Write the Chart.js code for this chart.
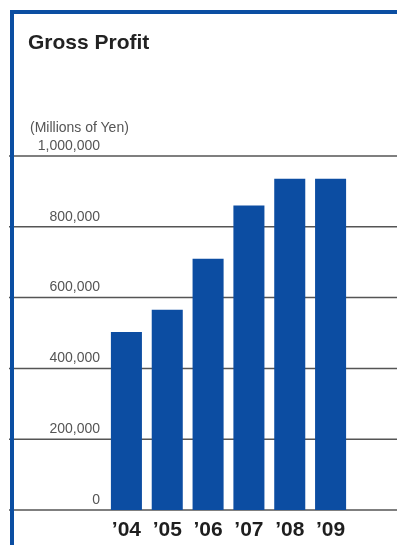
<!DOCTYPE html>
<html>
<head>
<meta charset="utf-8">
<script src="https://cdn.jsdelivr.net/npm/chart.js@4.4.0/dist/chart.umd.min.js"></script>
<style>
  html, body { margin: 0; padding: 0; background: #fff; }
  #wrap { position: relative; width: 397px; height: 545px; overflow: hidden; font-family: "Liberation Sans", Arial, sans-serif; }
  #chart { position: absolute; left: 0; top: 0; }
  .frame-top { position: absolute; left: 10px; top: 10px; width: 387px; height: 4px; background: #0b4ea2; }
  .frame-left { position: absolute; left: 10px; top: 10px; width: 4px; height: 535px; background: #0b4ea2; }
  .title { position: absolute; left: 28px; top: 31px; font-size: 21px; line-height: 21px; font-weight: bold; color: #222; }
  .unit { position: absolute; left: 30px; top: 120px; font-size: 14px; line-height: 14px; color: #555; }
</style>
</head>
<body>
<div id="wrap">
  <canvas id="chart" width="397" height="545"></canvas>
  <div class="frame-top"></div>
  <div class="frame-left"></div>
  <div class="title">Gross Profit</div>
  <div class="unit">(Millions of Yen)</div>
</div>
<script>
  // Gross profit, millions of yen
  const years = ['\u201904', '\u201905', '\u201906', '\u201907', '\u201908', '\u201909'];
  const grossProfit = [503000, 566000, 710000, 860000, 936000, 936000];
  const yTicks = [0, 200000, 400000, 600000, 800000, 1000000];

  // horizontal rules running across the whole panel, placed from the y scale
  const fullWidthGrid = {
    id: 'fullWidthGrid',
    beforeDatasetsDraw(chart) {
      const y = chart.scales.y;
      const ctx = chart.ctx;
      ctx.save();
      ctx.strokeStyle = '#555';
      ctx.lineWidth = 1.5;
      yTicks.forEach(v => {
        const py = y.getPixelForValue(v);
        ctx.beginPath();
        ctx.moveTo(9, py);
        ctx.lineTo(chart.width, py);
        ctx.stroke();
      });
      ctx.restore();
    }
  };

  new Chart(document.getElementById('chart'), {
    type: 'bar',
    data: {
      labels: years,
      datasets: [{
        data: grossProfit,
        backgroundColor: '#0c4da2',
        barPercentage: 0.76,
        categoryPercentage: 1.0
      }]
    },
    options: {
      responsive: false,
      animation: false,
      layout: { padding: { left: 0, right: 46, top: 156, bottom: 0 } },
      plugins: { legend: { display: false }, tooltip: { enabled: false } },
      scales: {
        x: {
          grid: { display: false, drawTicks: false },
          border: { display: false },
          ticks: {
            color: '#1e1e1e',
            padding: 8,
            font: { family: '"Liberation Sans", Arial, sans-serif', size: 21, weight: 'bold' }
          },
          afterFit(scale) { scale.height = 35; }
        },
        y: {
          min: 0,
          max: 1000000,
          grid: { display: false, drawTicks: false },
          border: { display: false },
          afterBuildTicks(scale) { scale.ticks = yTicks.map(v => ({ value: v })); },
          afterFit(scale) { scale.width = 106; },
          ticks: {
            color: '#555',
            padding: 6,
            labelOffset: -10,
            font: { family: '"Liberation Sans", Arial, sans-serif', size: 14 },
            callback: v => v.toLocaleString('en-US')
          }
        }
      }
    },
    plugins: [fullWidthGrid]
  });
</script>
</body>
</html>
